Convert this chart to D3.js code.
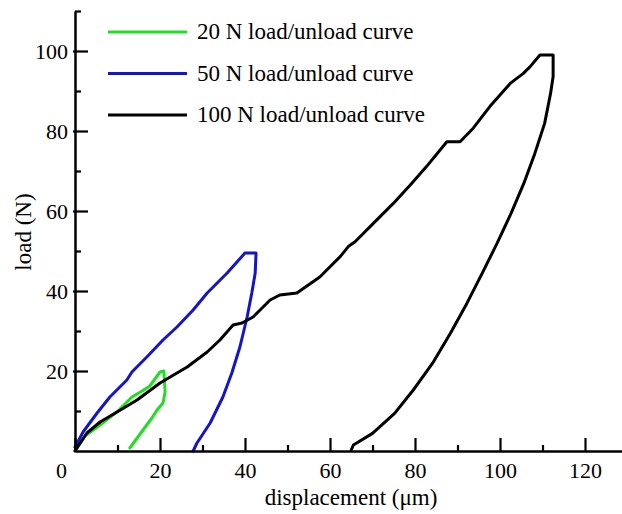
<!DOCTYPE html>
<html>
<head>
<meta charset="utf-8">
<script src="https://cdn.jsdelivr.net/npm/d3@7"></script>
<style>
  body { margin: 0; background: #fff; }
  .line { fill: none; stroke-width: 3; stroke-linejoin: round; stroke-linecap: round; }
</style>
</head>
<body>
<div id="chart"></div>
<script>
// curves: [displacement (µm), load (N)]
const curve20 = [
  [0, 0], [2.35, 3.75], [5.9, 6.5], [10.1, 10], [13.4, 13.5], [15.8, 15], [17.6, 16.25],
  [20, 19.75], [20.9, 20],
  [21.2, 14.75], [20.7, 12], [19.3, 10.25], [18.1, 8.25], [16, 5.25], [12.9, 0.75]
]
const curve50 = [
  [0, 1], [1.9, 4.75], [5.2, 9.5], [8.2, 13.5], [12.2, 17.75], [13.4, 19.75], [16.9, 23.5],
  [20.7, 27.75], [24, 31], [27.8, 35.25], [31.1, 39.5], [35.8, 44.5], [40, 49.5], [42.6, 49.5],
  [42.4, 44.5], [41.6, 39.5], [40.5, 33.5], [38.8, 26], [36.9, 19.5], [34.8, 13.5],
  [31.8, 7], [28.7, 2], [27.8, 0]
]
const curve100 = [
  [0, 0], [2.8, 4.5], [5.9, 7.25], [9.9, 9.75], [14.6, 12.75], [20, 17], [26.4, 21],
  [31.1, 24.75], [34.1, 27.75], [37.2, 31.5], [39.3, 32], [41.9, 33.5], [45.9, 37.75],
  [48.2, 39], [52.2, 39.5], [57.6, 43.5], [62.4, 48.6], [64.3, 51.1], [65.9, 52.3],
  [70.2, 56.9], [74.9, 61.9], [79.2, 66.9], [82.7, 71.1], [87.5, 77.3], [90.6, 77.3],
  [93.7, 80.7], [97.6, 86.1], [102.4, 91.9], [105.5, 94.4], [107.1, 96.1], [109.4, 99], [112.5, 99],
  [112.5, 93.6], [111.9, 89.4], [110.5, 81.9], [108.2, 74.4], [105.6, 66.9], [102.6, 59.4],
  [99.3, 51.9], [95.8, 44.4], [92.2, 36.9], [88.3, 29.4], [84.1, 21.9], [79.6, 15.25],
  [75.2, 9.4], [70, 4.4], [65.5, 1.5], [65, 0.25]
]
const seriesNames = ["20 N load/unload curve", "50 N load/unload curve", "100 N load/unload curve"]
const seriesColors = ["#22dd22", "#1414c8", "#000000"]
const xMajorTicks = [0, 20, 40, 60, 80, 100, 120]
const xMinorTicks = [10, 30, 50, 70, 90, 110]
const yMajorTicks = [20, 40, 60, 80, 100]
const yMinorTicks = [10, 30, 50, 70, 90, 110]

const serif = "'Liberation Serif', 'Times New Roman', Times, Tinos, 'Noto Serif', 'DejaVu Serif', serif"

const width = 622
const height = 514
const margin = { top: 11, bottom: 63, left: 75, right: 0 }

const svg = d3.select("div#chart").append("svg")
  .attr("width", width).attr("height", height)
  .style("font-family", serif)

const x = d3.scaleLinear().domain([0, 129]).range([margin.left, margin.left + 4.25 * 129])
const y = d3.scaleLinear().domain([0, 110]).range([height - margin.bottom, margin.top])

const line = d3.line().x(d => x(d[0])).y(d => y(d[1]))

// curves
const curves = [curve20, curve50, curve100]
svg.append("g").selectAll("path")
  .data(curves)
  .enter()
  .append("path")
  .attr("class", "line")
  .attr("d", line)
  .style("stroke", (d, i) => seriesColors[i])

// axes, ticks pointing inward
const xAxisGroup = svg.append("g").attr("transform", `translate(0, ${y(0)})`)
xAxisGroup.call(d3.axisBottom(x).tickValues(xMajorTicks).tickSizeInner(-13).tickSizeOuter(0).tickPadding(11))
xAxisGroup.append("g").call(d3.axisBottom(x).tickValues(xMinorTicks).tickSize(-6).tickFormat(""))
  .select(".domain").remove()

const yAxisGroup = svg.append("g").attr("transform", `translate(${x(0)}, 0)`)
yAxisGroup.call(d3.axisLeft(y).tickValues(yMajorTicks).tickSizeInner(-13).tickSizeOuter(0).tickPadding(7))
yAxisGroup.append("g").call(d3.axisLeft(y).tickValues(yMinorTicks).tickSize(-6).tickFormat(""))
  .select(".domain").remove()

svg.selectAll(".domain").attr("stroke-width", 2.5)
svg.selectAll(".tick line").attr("stroke-width", 2.2)
yAxisGroup.selectAll(".tick line").filter(d => yMajorTicks.includes(d)).attr("x1", -2)
svg.selectAll("g").attr("font-family", null)
svg.selectAll(".tick text").style("font-size", "22px").style("font-family", serif)
xAxisGroup.selectAll(".tick text").filter(d => d === 0).attr("dx", -14)

// axis titles
svg.append("text")
  .attr("x", 351)
  .attr("y", 505)
  .style("text-anchor", "middle")
  .style("font-size", "23px")
  .style("font-family", serif)
  .text("displacement (μm)")

svg.append("text")
  .attr("transform", `translate(31, 232) rotate(-90)`)
  .style("text-anchor", "middle")
  .style("font-size", "23px")
  .style("font-family", serif)
  .text("load (N)")

// legend
const legend = svg.append("g").selectAll("g")
  .data(seriesNames)
  .enter()
  .append("g")
  .attr("transform", (d, i) => `translate(108, ${32 + i * 41.5})`)

legend.append("line")
  .attr("x1", 0).attr("x2", 79)
  .style("stroke", (d, i) => seriesColors[i])
  .style("stroke-width", 3)

legend.append("text")
  .attr("x", 89)
  .attr("dy", "0.32em")
  .style("font-size", "23px")
  .style("font-family", serif)
  .text(d => d)
</script>
</body>
</html>
